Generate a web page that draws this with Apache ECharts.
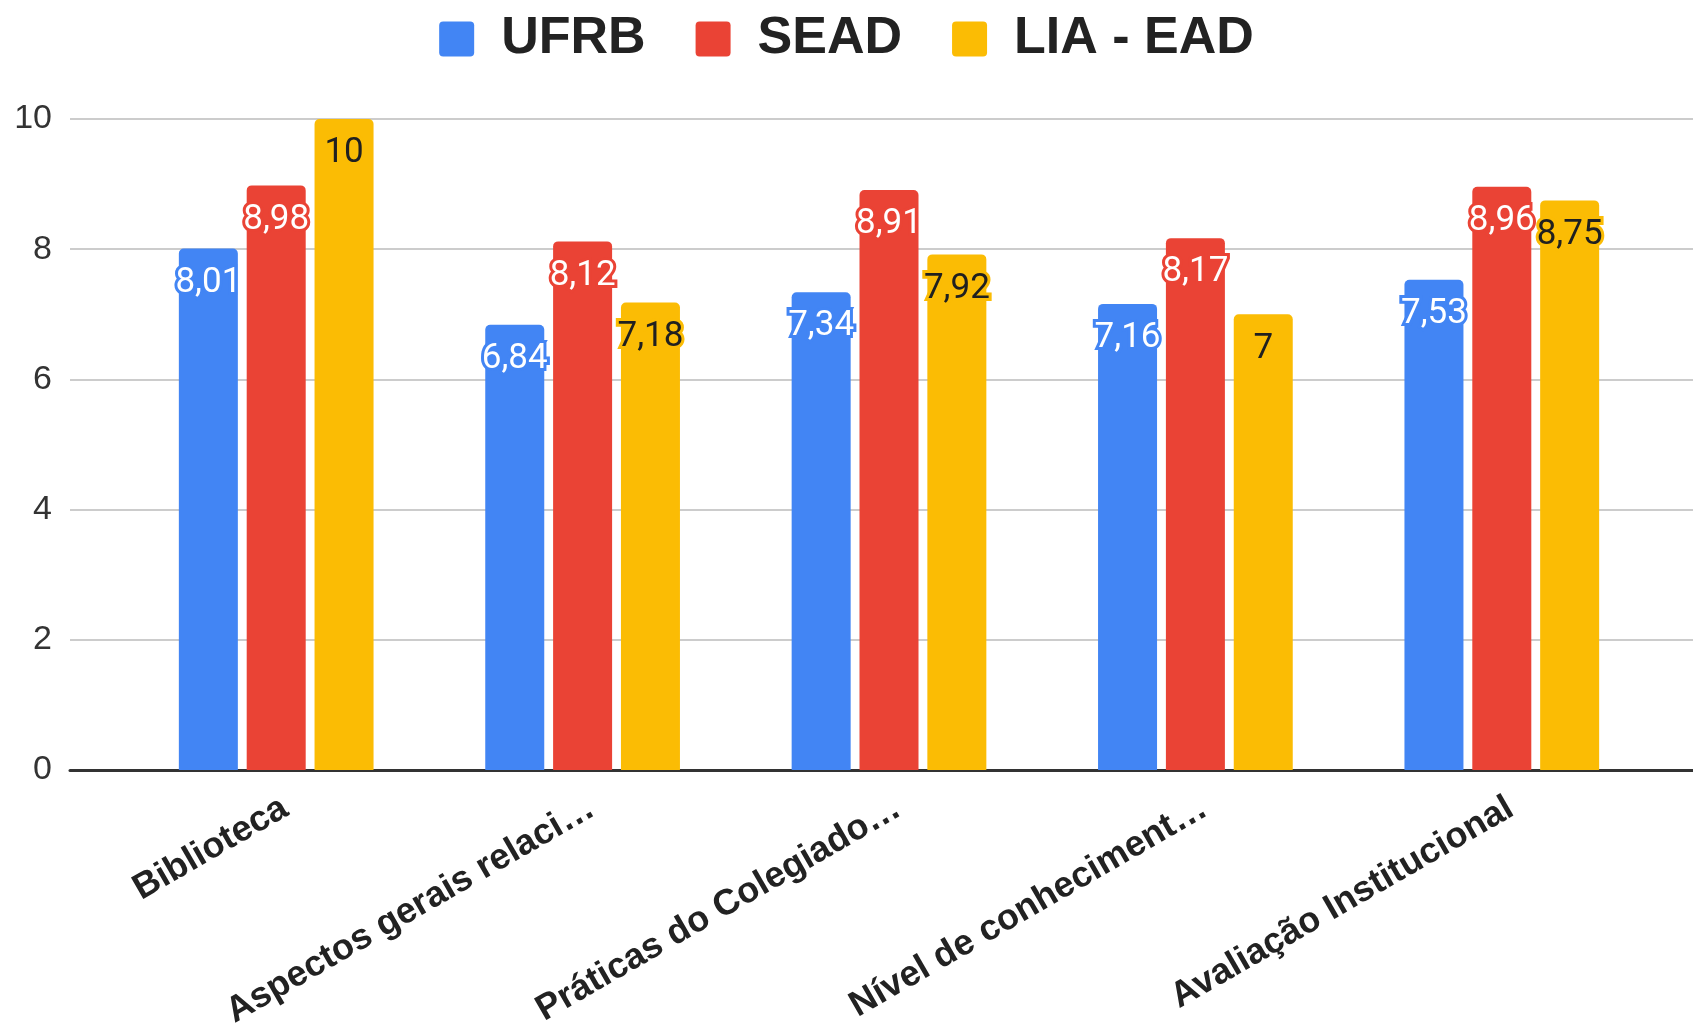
<!DOCTYPE html>
<html>
<head>
<meta charset="utf-8">
<script src="https://cdn.jsdelivr.net/npm/echarts@6/dist/echarts.min.js"></script>
<style>html,body{margin:0;padding:0;background:#fff;}#c{width:1693px;height:1025px;}</style>
</head>
<body>
<div id="c"></div>
<script>
const categories = ['Biblioteca', 'Aspectos gerais relaci…', 'Práticas do Colegiado…', 'Nível de conheciment…', 'Avaliação Institucional'];
const seriesNames = ['UFRB', 'SEAD', 'LIA - EAD'];
const ufrb = [8.01, 6.84, 7.34, 7.16, 7.53];
const sead = [8.98, 8.12, 8.91, 8.17, 8.96];
const liaEad = [10, 7.18, 7.92, 7, 8.75];
const yTicks = [0, 2, 4, 6, 8, 10];

const colors = ['#4285F4', '#EA4335', '#FBBC04'];
const labelColors = ['#ffffff', '#ffffff', '#202020'];
const values = [ufrb, sead, liaEad];

const chart = echarts.init(document.getElementById('c'));
const fmt = v => String(v).replace('.', ',');
const squareIcon = 'path://M4,0 H31 Q35,0 35,4 V31 Q35,35 31,35 H4 Q0,35 0,31 V4 Q0,0 4,0 Z';

chart.setOption({
  animation: false,
  color: colors,
  legend: {
    top: 8,
    left: 'center',
    itemWidth: 35,
    itemHeight: 35,
    itemGap: 50,
    icon: squareIcon,
    textStyle: {
      fontFamily: 'Liberation Sans, Arial, sans-serif',
      fontWeight: 'bold',
      fontSize: 52,
      color: '#222',
      padding: [0, 0, 0, 22]
    },
    data: seriesNames
  },
  grid: [
    { left: 123, right: 38, top: 119, bottom: 255, containLabel: false, outerBoundsMode: 'none' },
    { left: 70, right: 0, top: 119, bottom: 255, containLabel: false, outerBoundsMode: 'none' }
  ],
  xAxis: [
    {
      type: 'category', gridIndex: 0, data: categories,
      axisLine: { show: false }, axisTick: { show: false },
      axisLabel: {
        rotate: 30, margin: 20, interval: 0,
        verticalAlign: 'top',
        fontFamily: 'Liberation Sans, Arial, sans-serif',
        fontWeight: 'bold', fontSize: 36, color: '#222'
      }
    },
    {
      type: 'value', gridIndex: 1, min: 0, max: 1,
      axisLine: { show: true, lineStyle: { color: '#333', width: 3 } },
      axisTick: { show: false }, axisLabel: { show: false }, splitLine: { show: false }
    }
  ],
  yAxis: [
    { type: 'value', gridIndex: 0, min: 0, max: 10, interval: 2, show: false },
    {
      type: 'value', gridIndex: 1, min: yTicks[0], max: yTicks[yTicks.length - 1], interval: 2,
      axisLine: { show: false }, axisTick: { show: false },
      axisLabel: {
        margin: 18, fontFamily: 'Liberation Sans, Arial, sans-serif', fontSize: 34, color: '#333'
      },
      splitLine: { lineStyle: { color: '#cccccc', width: 2 } }
    }
  ],
  series: seriesNames.map((name, i) => ({
    name: name,
    type: 'bar',
    xAxisIndex: 0,
    yAxisIndex: 0,
    data: values[i],
    barWidth: 59,
    barGap: '15%',
    z: 3,
    itemStyle: { color: colors[i], borderRadius: [5, 5, 0, 0] },
    label: {
      show: true,
      position: 'insideTop',
      distance: 17,
      formatter: p => fmt(p.value),
      fontFamily: 'Roboto, sans-serif',
      fontSize: 35,
      color: labelColors[i],
      textBorderColor: colors[i],
      textBorderWidth: 6
    }
  }))
});
</script>
</body>
</html>
